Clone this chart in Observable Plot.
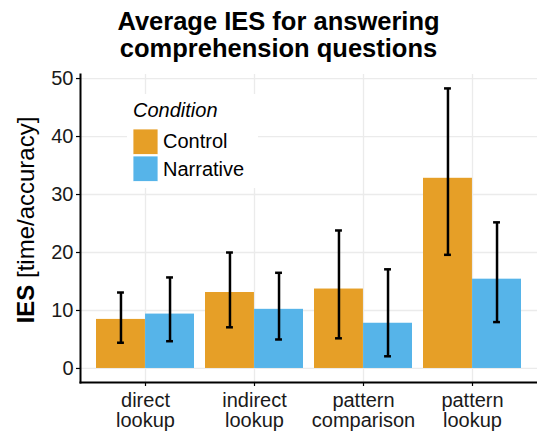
<!DOCTYPE html>
<html><head><meta charset="utf-8">
<script src="https://cdn.jsdelivr.net/npm/d3@7"></script>
<script src="https://cdn.jsdelivr.net/npm/@observablehq/plot@0.6"></script>
<style>
body{margin:0;background:#fff;font-family:"Liberation Sans",Arial,Helvetica,sans-serif;}
#wrap{position:relative;width:537px;height:431px;overflow:hidden;}
#title{height:60px;box-sizing:border-box;padding-top:8px;padding-left:20px;text-align:center;font-weight:bold;font-size:25.5px;line-height:27px;color:#000;white-space:nowrap;}
#chart svg{display:block;overflow:visible;}
</style></head><body>
<div id="wrap"><div id="title">Average IES for answering<br>comprehension questions</div><div id="chart"></div></div>
<script>
const groups = ["direct\nlookup", "indirect\nlookup", "pattern\ncomparison", "pattern\nlookup"];
const conditions = ["Control", "Narrative"];
const colors = ["#E69F27", "#56B4E9"];
const controlMean = [8.46, 13.1, 13.7, 32.8];
const controlLow = [4.44, 7.1, 5.2, 19.6];
const controlHigh = [13.1, 20.0, 23.8, 48.3];
const narrativeMean = [9.38, 10.2, 7.8, 15.4];
const narrativeLow = [4.7, 5.0, 2.1, 8.0];
const narrativeHigh = [15.7, 16.5, 17.1, 25.2];
const yTicks = [0, 10, 20, 30, 40, 50];
const yDomain = [-2.42, 50.7];
const yLabelBold = "IES";
const yLabelRest = " [time/accuracy]";
const legendTitle = "Condition";

const control = groups.map((g, i) => ({group: g, condition: "Control", mean: controlMean[i], low: controlLow[i], high: controlHigh[i]}));
const narrative = groups.map((g, i) => ({group: g, condition: "Narrative", mean: narrativeMean[i], low: narrativeLow[i], high: narrativeHigh[i]}));

const W = 537, H = 371, mL = 80, mR = 0, mT = 14, mB = 49;
const pIn = 0.1, pOut = 0.146;
const bw = d3.scaleBand(groups, [mL, W - mR]).paddingInner(pIn).paddingOuter(pOut).bandwidth();
const half = bw / 2;
const cap = 3.5;
const font = '"Liberation Sans", Arial, Helvetica, sans-serif';

const plot = Plot.plot({
  width: W, height: H, marginLeft: mL, marginRight: mR, marginTop: mT, marginBottom: mB,
  style: {fontFamily: font, fontSize: "20px", color: "#1a1a1a", background: "white", overflow: "visible"},
  x: {domain: groups, paddingInner: pIn, paddingOuter: pOut, label: null},
  y: {domain: yDomain, label: null},
  color: {domain: conditions, range: colors},
  marks: [
    Plot.gridY(yTicks, {stroke: "#ebebeb", strokeOpacity: 1, strokeWidth: 1.3}),
    Plot.gridX({stroke: "#ebebeb", strokeOpacity: 1, strokeWidth: 1.3}),
    Plot.barY(control, {x: "group", y: "mean", fill: "condition", insetRight: half}),
    Plot.barY(narrative, {x: "group", y: "mean", fill: "condition", insetLeft: half}),
    Plot.ruleX(control, {x: "group", y1: "low", y2: "high", dx: -half / 2, stroke: "#000", strokeWidth: 2.5}),
    Plot.ruleX(narrative, {x: "group", y1: "low", y2: "high", dx: half / 2, stroke: "#000", strokeWidth: 2.5}),
    Plot.tickY(control, {x: "group", y: "high", insetLeft: half / 2 - cap, insetRight: 3 * half / 2 - cap, stroke: "#000", strokeWidth: 2.5}),
    Plot.tickY(control, {x: "group", y: "low", insetLeft: half / 2 - cap, insetRight: 3 * half / 2 - cap, stroke: "#000", strokeWidth: 2.5}),
    Plot.tickY(narrative, {x: "group", y: "high", insetLeft: 3 * half / 2 - cap, insetRight: half / 2 - cap, stroke: "#000", strokeWidth: 2.5}),
    Plot.tickY(narrative, {x: "group", y: "low", insetLeft: 3 * half / 2 - cap, insetRight: half / 2 - cap, stroke: "#000", strokeWidth: 2.5}),
    Plot.axisY(yTicks, {tickSize: 4, tickPadding: 3, fontSize: 20, stroke: "#000", strokeWidth: 1.2}),
    Plot.axisX({tickSize: 4, tickPadding: 6, fontSize: 20, lineHeight: 1, stroke: "#000", strokeWidth: 1.2}),
    Plot.frame({anchor: "left", stroke: "#000", strokeWidth: 2}),
    Plot.frame({anchor: "bottom", stroke: "#000", strokeWidth: 2})
  ]
});

const svg = d3.select(plot);
const colorScale = plot.scale("color");

// y axis title
const yl = svg.append("text")
  .attr("transform", "translate(34,160) rotate(-90)")
  .attr("text-anchor", "middle")
  .attr("font-family", font).attr("font-size", 24).attr("fill", "#000");
yl.append("tspan").attr("font-weight", "bold").text(yLabelBold);
yl.append("tspan").attr("xml:space", "preserve").text(yLabelRest);

// legend
const lg = svg.append("g").attr("font-family", font).attr("font-size", 20).attr("fill", "#000").attr("text-anchor", "start");
lg.append("rect").attr("x", 127).attr("y", 34).attr("width", 131).attr("height", 94).attr("fill", "white");
lg.append("text").attr("x", 133).attr("y", 56.7).attr("font-style", "italic").text(legendTitle);
conditions.forEach((c, i) => {
  lg.append("rect").attr("x", 133).attr("y", 69 + i * 27).attr("width", 25).attr("height", 25.5)
    .attr("fill", colorScale.apply(c)).attr("stroke", "white").attr("stroke-width", 0.8);
  lg.append("text").attr("x", 163).attr("y", 88 + i * 28).text(c);
});

document.getElementById("chart").appendChild(plot);
</script>
</body></html>
